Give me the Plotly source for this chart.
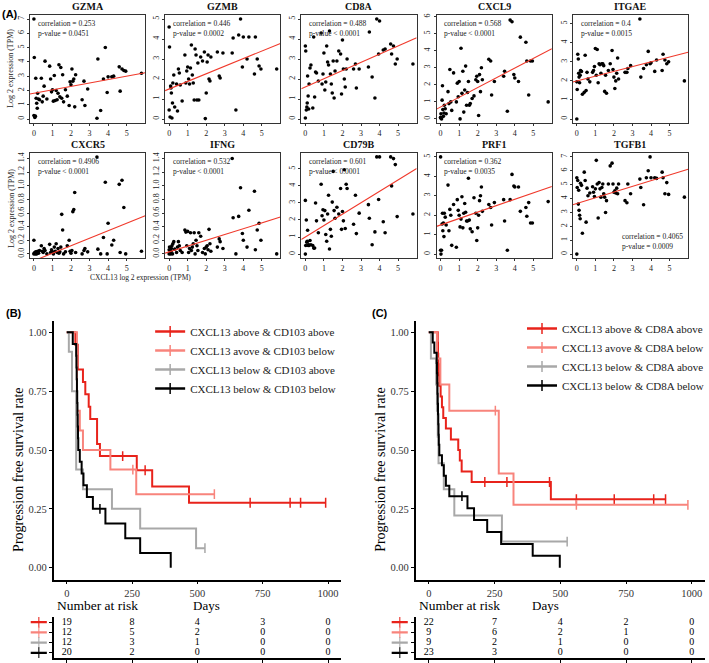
import plotly.graph_objects as go

W, H = 709, 663
def fx(p): return p / W
def fy(p): return 1 - p / H

SERIF = "Liberation Serif"

# ---------------- Panel A data ----------------
cxcl13 = [0.0, 0.0, 0.02, 0.05, 0.08, 0.1, 0.12, 0.15, 0.18, 0.2, 0.25, 0.3, 0.4, 0.45, 0.5, 0.55,
          0.6, 0.7, 0.85, 0.9, 0.95, 1.0, 1.05, 1.1, 1.15, 1.2, 1.25, 1.3, 1.35, 1.4, 1.45, 1.5,
          1.55, 1.6, 1.7, 1.8, 1.9, 1.95, 2.0, 2.05, 2.1, 2.15, 2.2, 2.25, 2.6, 2.7, 2.75, 2.9,
          3.4, 3.45, 3.6, 3.75, 3.85, 3.95, 4.0, 4.2, 4.3, 4.6, 4.65, 4.75, 4.85, 4.95, 5.8]

gzma = [7.0, 0.25, 4.3, 0.1, 0.2, 2.85, 1.45, 1.1, 0.75, 1.8, 1.4, 1.35, 2.85, 1.2, 1.6, 2.3,
        4.05, 1.4, 3.7, 2.8, 1.9, 2.05, 1.25, 3.05, 1.3, 2.0, 1.35, 1.8, 3.8, 1.55, 3.6, 1.45,
        3.1, 1.2, 2.05, 1.6, 0.95, 2.6, 2.4, 3.5, 2.65, 2.8, 0.85, 3.1, 1.35, 2.65, 0.95, 2.1,
        0.05, 4.2, 0.6, 2.8, 5.0, 1.85, 2.95, 2.95, 3.0, 3.65, 1.95, 3.5, 3.4, 3.35, 3.2]
gzmb = [4.6, 0.45, 3.6, 0.1, 1.65, 1.55, 1.3, 0.05, 0.8, 1.8, 2.2, 0.6, 1.75, 0.4, 2.5, 2.3,
        1.7, 0.9, 3.2, 1.8, 2.4, 2.6, 2.0, 1.75, 2.55, 3.7, 2.2, 1.8, 0.95, 3.5, 3.2, 0.95,
        2.8, 0.95, 3.1, 2.9, 3.35, 0.02, 1.3, 2.85, 3.2, 2.0, 1.9, 3.1, 3.35, 2.15, 2.05, 3.3,
        3.3, 4.05, 0.45, 4.2, 5.0, 2.6, 4.1, 3.0, 4.1, 2.25, 4.1, 3.0, 2.65, 2.5, 2.5]
cd8a = [0.05, 3.65, 3.4, 0.45, 0.6, 0.8, 2.15, 1.15, 0.5, 1.75, 2.55, 2.7, 0.55, 4.1, 1.1, 2.35,
        2.3, 1.9, 4.3, 1.75, 2.25, 3.3, 1.45, 1.85, 3.65, 2.85, 2.7, 4.4, 2.25, 1.75, 1.3, 2.9,
        1.05, 2.4, 2.9, 3.4, 3.25, 1.25, 3.95, 2.5, 2.0, 1.6, 2.5, 3.0, 2.5, 2.75, 1.55, 2.5,
        2.6, 4.35, 2.1, 1.05, 5.0, 3.25, 4.9, 3.45, 3.5, 3.75, 3.25, 3.65, 2.75, 3.0, 2.75]
cxcl9 = [0.1, 0.05, 0.3, 0.0, 1.1, 1.95, 0.55, 0.15, 0.35, 0.8, 0.6, 0.3, 1.6, 0.9, 2.9, 1.0,
         0.5, 2.7, 1.0, 2.1, 1.3, 2.2, 0.0, 4.15, 1.5, 2.8, 0.4, 1.7, 3.1, 0.8, 1.55, 2.2,
         0.8, 0.9, 1.2, 1.35, 2.3, 2.5, 2.2, 0.2, 2.6, 1.6, 3.0, 2.3, 3.5, 3.4, 1.4, 2.2,
         2.5, 2.8, 0.45, 5.8, 5.7, 2.6, 2.4, 2.2, 4.8, 4.5, 3.4, 1.4, 3.4, 3.4, 1.0]
itgae = [0.0, 1.95, 1.55, 3.4, 3.15, 2.4, 2.2, 1.9, 2.3, 2.55, 2.5, 1.3, 1.4, 3.35, 1.5, 2.45,
         2.1, 1.95, 2.45, 2.55, 2.75, 3.7, 2.3, 3.65, 1.9, 2.9, 2.85, 2.4, 2.9, 2.9, 2.8, 1.45,
         2.3, 1.35, 2.55, 2.9, 3.6, 2.6, 2.2, 1.6, 2.0, 2.4, 3.2, 2.1, 2.45, 2.45, 2.65, 2.8,
         5.25, 2.2, 2.65, 2.85, 3.55, 2.9, 2.95, 2.5, 3.1, 2.55, 3.4, 3.1, 2.9, 3.0, 2.0]
cxcr5 = [0.0, 0.2, 0.01, 0.02, 0.0, 0.03, 0.01, 0.0, 0.02, 0.04, 0.01, 0.05, 0.12, 0.04, 0.02, 0.08,
         0.05, 0.0, 0.14, 0.02, 0.06, 0.03, 0.0, 0.1, 0.04, 0.15, 0.02, 0.08, 0.01, 0.03, 0.1, 0.58,
         0.35, 0.0, 0.03, 0.12, 0.2, 0.04, 0.01, 0.05, 0.62, 0.65, 0.9, 0.02, 0.0, 0.05, 0.08, 0.03,
         1.42, 0.07, 0.0, 0.24, 1.05, 0.0, 0.45, 0.13, 0.2, 1.02, 0.02, 1.08, 0.68, 0.0, 0.04]
ifng = [0.06, 0.0, 0.1, 0.02, 0.0, 0.04, 0.08, 0.12, 0.0, 0.15, 0.18, 0.07, 0.02, 0.1, 0.18, 0.12,
        0.05, 0.02, 0.35, 0.32, 0.12, 0.33, 0.02, 0.08, 0.31, 0.05, 0.1, 0.15, 0.31, 0.0, 0.2, 0.12,
        0.05, 0.31, 0.26, 0.02, 0.08, 0.0, 0.1, 0.12, 0.06, 0.36, 0.15, 0.04, 0.1, 0.22, 0.18, 0.08,
        1.4, 0.53, 0.0, 0.55, 0.97, 0.3, 0.2, 0.1, 0.64, 0.92, 0.06, 0.35, 0.45, 0.2, 0.0]
cd79b = [0.0, 3.15, 0.5, 2.0, 0.7, 0.75, 1.4, 0.5, 0.55, 0.5, 0.8, 0.55, 0.5, 0.35, 0.35, 3.0,
         1.95, 1.25, 4.1, 2.25, 2.6, 2.0, 2.55, 1.15, 0.75, 2.35, 3.45, 0.3, 1.45, 1.05, 3.05, 4.85,
         2.55, 2.1, 2.75, 2.35, 3.85, 1.45, 2.5, 1.95, 4.95, 1.5, 4.1, 3.85, 1.75, 3.45, 1.2, 2.4,
         2.9, 2.1, 0.55, 1.3, 5.7, 3.2, 5.7, 1.9, 1.25, 5.7, 4.0, 5.6, 5.25, 2.2, 2.35]
prf1 = [5.0, 0.2, 0.0, 0.2, 1.55, 2.1, 1.2, 1.6, 0.9, 2.1, 1.9, 1.5, 3.55, 1.2, 2.3, 2.0,
        0.45, 2.55, 0.35, 2.8, 2.25, 2.0, 1.4, 1.8, 2.95, 1.35, 2.1, 2.6, 2.15, 1.7, 1.7, 3.9,
        1.75, 1.3, 1.15, 2.9, 2.1, 0.7, 1.35, 2.0, 2.75, 3.0, 3.45, 2.2, 2.55, 2.4, 1.5, 2.65,
        2.8, 1.7, 0.2, 2.8, 4.1, 3.5, 3.45, 3.45, 2.2, 2.4, 1.95, 2.65, 1.6, 1.6, 2.7]
tgfb1 = [0.0, 5.5, 4.8, 5.3, 3.6, 4.6, 3.15, 2.8, 2.55, 5.1, 4.95, 1.5, 5.9, 5.3, 2.3, 4.75,
         4.2, 4.4, 4.85, 4.45, 4.15, 4.7, 6.75, 5.05, 2.6, 5.15, 4.7, 4.1, 4.8, 5.05, 4.35, 4.1,
         3.0, 3.85, 5.05, 6.35, 6.55, 5.05, 4.45, 4.55, 4.4, 4.75, 4.35, 5.05, 3.85, 3.7, 5.05, 4.35,
         5.4, 4.8, 3.55, 5.5, 6.0, 7.0, 5.5, 5.5, 5.45, 5.9, 5.5, 4.35, 5.15, 4.3, 4.1]

genes = ["GZMA", "GZMB", "CD8A", "CXCL9", "ITGAE", "CXCR5", "IFNG", "CD79B", "PRF1", "TGFB1"]
gene_values = [gzma, gzmb, cd8a, cxcl9, itgae, cxcr5, ifng, cd79b, prf1, tgfb1]
correlations = ["0.253", "0.446", "0.488", "0.568", "0.4", "0.4906", "0.532", "0.601", "0.362", "0.4065"]
pvalues = ["= 0.0451", "= 0.0002", "< 0.0001", "< 0.0001", "= 0.0015",
           "< 0.0001", "< 0.0001", "< 0.0001", "= 0.0035", "= 0.0009"]
fit_intercepts = [1.8, 1.5, 1.6, 0.7, 2.0, -0.1, 0.03, 1.0, 1.5, 3.65]
fit_slopes = [0.24, 0.38, 0.41, 0.57, 0.25, 0.11, 0.085, 0.67, 0.33, 0.41]
y_tick_max = [7, 5, 5, 6, 5, 1.4, 1.4, 5, 5, 7]
y_tick_step = [1, 1, 1, 1, 1, 0.2, 0.2, 1, 1, 1]
y_ranges = [[-0.28, 7.28], [-0.2, 5.2], [-0.2, 5.2], [-0.24, 6.1], [-0.21, 5.46],
            [-0.06, 1.48], [-0.06, 1.48], [-0.23, 5.93], [-0.2, 5.2], [-0.28, 7.28]]
x_range_a = [-0.22, 6.0]

# ---------------- Panel B / C data (Kaplan-Meier) ----------------
km_labels_b = ["CXCL13 above & CD103 above", "CXCL13 avove & CD103 below",
               "CXCL13 below & CD103 above", "CXCL13 below & CD103 below"]
km_labels_c = ["CXCL13 above & CD8A above", "CXCL13 avove & CD8A below",
               "CXCL13 below & CD8A above", "CXCL13 below & CD8A below"]
km_colors = ["#E8231B", "#F8847C", "#A8A8A8", "#000000"]

b_red_t = [0, 33, 42, 62, 71, 84, 90, 116, 127, 268, 327, 468, 991]
b_red_s = [1.0, 0.947, 0.842, 0.789, 0.737, 0.684, 0.632, 0.526, 0.474, 0.414, 0.345, 0.276, 0.276]
b_red_c = [214, 300, 702, 855, 895, 991]
b_salmon_t = [0, 39, 50, 62, 167, 266, 565]
b_salmon_s = [1.0, 0.667, 0.583, 0.5, 0.417, 0.3125, 0.3125]
b_salmon_c = [253, 565]
b_gray_t = [0, 8, 20, 36, 62, 173, 281, 495, 529]
b_gray_s = [1.0, 0.917, 0.75, 0.417, 0.333, 0.25, 0.167, 0.083, 0.083]
b_gray_c = [529]
b_black_t = [0, 23, 36, 37, 38, 39, 40, 41, 42, 43, 44, 50, 57, 64, 77, 100, 148, 224, 281, 398]
b_black_s = [1.0, 0.95, 0.9, 0.85, 0.8, 0.75, 0.7, 0.65, 0.6, 0.55, 0.5, 0.45, 0.4, 0.35, 0.3,
             0.25, 0.1875, 0.125, 0.0625, 0.0]
b_black_c = [127]

c_red_t = [0, 34, 35, 36, 38, 40, 45, 50, 55, 65, 84, 112, 118, 125, 163, 464, 902]
c_red_s = [1.0, 0.955, 0.909, 0.864, 0.818, 0.773, 0.727, 0.682, 0.636, 0.591, 0.545, 0.5,
           0.455, 0.409, 0.364, 0.291, 0.291]
c_red_c = [213, 297, 459, 561, 705, 855, 900]
c_salmon_t = [0, 31, 44, 78, 266, 322, 985]
c_salmon_s = [1.0, 0.889, 0.778, 0.667, 0.4, 0.267, 0.267]
c_salmon_c = [253, 561, 985]
c_gray_t = [0, 8, 28, 31, 34, 37, 57, 97, 278, 526]
c_gray_s = [1.0, 0.889, 0.778, 0.667, 0.556, 0.444, 0.333, 0.222, 0.111, 0.111]
c_gray_c = [526]
c_black_t = [0, 15, 21, 30, 31, 32, 33, 34, 35, 36, 37, 38, 40, 50, 57, 65, 78, 147, 172, 222,
             275, 395, 498]
c_black_s = [1.0, 0.957, 0.913, 0.870, 0.826, 0.783, 0.739, 0.696, 0.652, 0.609, 0.565, 0.522,
             0.478, 0.435, 0.391, 0.348, 0.304, 0.253, 0.203, 0.152, 0.101, 0.051, 0.0]
c_black_c = [126]

risk_times = [0, 250, 500, 750, 1000]
risk_b = [[19, 8, 4, 3, 0], [12, 5, 2, 0, 0], [12, 3, 1, 0, 0], [20, 2, 0, 0, 0]]
risk_c = [[22, 7, 4, 2, 0], [9, 6, 2, 1, 0], [9, 2, 1, 0, 0], [23, 3, 0, 0, 0]]

fig = go.Figure()
layout = {}

def ax(k):
    return ("xaxis" if k == 1 else f"xaxis{k}"), ("yaxis" if k == 1 else f"yaxis{k}")

def ref(k):
    return ("x" if k == 1 else f"x{k}"), ("y" if k == 1 else f"y{k}")

annotations = []

# ---------------- Panel A ----------------
lefts = [30, 166, 303, 439, 576]
box_w = 116
rows = [(15, 123), (153, 258)]
for i, gene in enumerate(genes):
    k = i + 1
    r, c = divmod(i, 5)
    xa, ya = ax(k)
    xr, yr = ref(k)
    left = lefts[c]
    top, bot = rows[r]
    ys = gene_values[i]
    fig.add_trace(go.Scatter(x=cxcl13, y=ys, mode="markers", xaxis=xr, yaxis=yr,
                             marker=dict(color="black", size=3.6), showlegend=False,
                             hoverinfo="skip"))
    lx = x_range_a
    fig.add_trace(go.Scatter(x=lx, y=[fit_intercepts[i] + fit_slopes[i] * v for v in lx],
                             mode="lines", xaxis=xr, yaxis=yr,
                             line=dict(color="#F0392B", width=1.1), showlegend=False,
                             hoverinfo="skip"))
    n_ticks = int(round(y_tick_max[i] / y_tick_step[i])) + 1
    tv = [round(j * y_tick_step[i], 2) for j in range(n_ticks)]
    axis_common = dict(showline=True, mirror=True, linecolor="#333", linewidth=1,
                       ticks="outside", ticklen=2, tickcolor="#333", showgrid=False,
                       zeroline=False, automargin=False,
                       tickfont=dict(family=SERIF, size=8, color="#222"))
    layout[xa] = dict(domain=[fx(left), fx(left + box_w)], range=x_range_a, anchor=yr,
                      tickvals=[0, 1, 2, 3, 4, 5], **axis_common)
    layout[ya] = dict(domain=[fy(bot), fy(top)], range=y_ranges[i], anchor=xr,
                      tickvals=tv, tickangle=-90,
                      tickformat=".1f" if y_tick_step[i] < 1 else "d", **axis_common)
    annotations.append(dict(text=f"<b>{gene}</b>", xref=f"{xr} domain", yref=f"{yr} domain",
                            x=0.5, y=1, yanchor="bottom", yshift=1, showarrow=False,
                            font=dict(family=SERIF, size=10, color="#111")))
    txt = f"correlation = {correlations[i]}<br>p-value {pvalues[i]}"
    if gene == "TGFB1":
        annotations.append(dict(text=txt, xref=f"{xr} domain", yref=f"{yr} domain",
                                x=0.97, y=0.05, xanchor="right", yanchor="bottom",
                                align="left", showarrow=False,
                                font=dict(family=SERIF, size=7.5, color="#222")))
    else:
        annotations.append(dict(text=txt, xref=f"{xr} domain", yref=f"{yr} domain",
                                x=0.05, y=0.98, xanchor="left", yanchor="top",
                                align="left", showarrow=False,
                                font=dict(family=SERIF, size=7.5, color="#222")))

for yc in [68, 208]:
    annotations.append(dict(text="Log 2 expression (TPM)", xref="paper", yref="paper",
                            x=fx(11), y=fy(yc), xanchor="center", yanchor="middle",
                            textangle=-90, showarrow=False,
                            font=dict(family=SERIF, size=8, color="#222")))
annotations.append(dict(text="CXCL13 log 2 expression (TPM)", xref="paper", yref="paper",
                        x=fx(88), y=fy(277), yanchor="middle", showarrow=False,
                        font=dict(family=SERIF, size=7.5, color="#222")))

# ---------------- KM panels ----------------
def surv_at(ts, ss, t):
    v = ss[0]
    for tt, s in zip(ts, ss):
        if tt <= t:
            v = s
    return v

panels = [
    dict(k_plot=11, k_table=12, k_glyph=15, left=54, right=343, glyph=(30, 48),
         curves=[(b_red_t, b_red_s, b_red_c), (b_salmon_t, b_salmon_s, b_salmon_c),
                 (b_gray_t, b_gray_s, b_gray_c), (b_black_t, b_black_s, b_black_c)],
         labels=km_labels_b, risk=risk_b, legend="legend", ytitle_x=18, letter="(B)",
         letter_x=4, days_x=192, nar_x=55),
    dict(k_plot=13, k_table=14, k_glyph=16, left=418, right=709, glyph=(393, 411),
         curves=[(c_red_t, c_red_s, c_red_c), (c_salmon_t, c_salmon_s, c_salmon_c),
                 (c_gray_t, c_gray_s, c_gray_c), (c_black_t, c_black_s, c_black_c)],
         labels=km_labels_c, risk=risk_c, legend="legend2", ytitle_x=382, letter="(C)",
         letter_x=372, days_x=564, nar_x=419),
]

km_axis = dict(showline=True, linecolor="black", linewidth=1.5, ticks="outside", ticklen=3,
               tickcolor="black", showgrid=False, zeroline=False, automargin=False,
               tickfont=dict(family=SERIF, size=10.5, color="#333"))

for p in panels:
    xa, ya = ax(p["k_plot"])
    xr, yr = ref(p["k_plot"])
    txa, tya = ax(p["k_table"])
    txr, tyr = ref(p["k_table"])
    gxa, _ = ax(p["k_glyph"])
    gxr, _ = ref(p["k_glyph"])
    for (ts, ss, cs), col, lab in zip(p["curves"], km_colors, p["labels"]):
        fig.add_trace(go.Scatter(x=ts, y=ss, mode="lines", line=dict(color=col, width=2, shape="hv"),
                                 xaxis=xr, yaxis=yr, showlegend=False, hoverinfo="skip"))
        fig.add_trace(go.Scatter(x=cs, y=[surv_at(ts, ss, c) for c in cs], mode="markers",
                                 marker=dict(symbol="line-ns", size=7, color=col,
                                             line=dict(color=col, width=1.5)),
                                 xaxis=xr, yaxis=yr, showlegend=False, hoverinfo="skip"))
        fig.add_trace(go.Scatter(x=[None], y=[None], mode="lines+markers", name=lab,
                                 line=dict(color=col, width=2.5),
                                 marker=dict(symbol="line-ns", size=8, color=col,
                                             line=dict(color=col, width=1.5)),
                                 xaxis=xr, yaxis=yr, legend=p["legend"], showlegend=True))
    layout[xa] = dict(domain=[fx(p["left"]), fx(p["right"])], range=[-50, 1050], anchor=yr,
                      tickvals=risk_times, **km_axis)
    layout[ya] = dict(domain=[fy(579.5), fy(320.5)], range=[-0.05, 1.05], anchor=xr,
                      tickvals=[0, 0.25, 0.5, 0.75, 1.0], tickformat=".2f", **km_axis)
    # risk table
    nrow = len(p["risk"])
    tx, ty, tt = [], [], []
    for ri, row in enumerate(p["risk"]):
        for t, v in zip(risk_times, row):
            tx.append(t)
            ty.append(nrow - ri)
            tt.append(str(v))
    fig.add_trace(go.Scatter(x=tx, y=ty, text=tt, mode="text", xaxis=txr, yaxis=tyr,
                             textfont=dict(family=SERIF, size=10, color="black"),
                             showlegend=False, hoverinfo="skip"))
    tbl_axis = dict(showline=True, linecolor="black", linewidth=1.5, ticks="outside",
                    ticklen=3, tickcolor="black", showgrid=False, zeroline=False,
                    showticklabels=False, automargin=False)
    layout[txa] = dict(domain=[fx(p["left"]), fx(p["right"])], range=[-50, 1050], anchor=tyr,
                       tickvals=risk_times, **tbl_axis)
    layout[tya] = dict(domain=[fy(658), fy(617)], range=[0.5, 4.5], anchor=txr,
                       tickvals=[1, 2, 3, 4], **tbl_axis)
    # glyphs beside the risk table
    for ri, col in enumerate(km_colors):
        fig.add_trace(go.Scatter(x=[0.05, 0.5, 0.95], y=[nrow - ri] * 3, mode="lines+markers",
                                 line=dict(color=col, width=2.2),
                                 marker=dict(symbol="line-ns", size=[0, 8, 0], color=col,
                                             line=dict(color=col, width=1.5)),
                                 xaxis=gxr, yaxis=tyr, showlegend=False, hoverinfo="skip"))
    layout[gxa] = dict(domain=[fx(p["glyph"][0]), fx(p["glyph"][1])], range=[0, 1],
                       visible=False, anchor=tyr)
    annotations.append(dict(text="Progression free survival rate", xref="paper", yref="paper",
                            x=fx(p["ytitle_x"]), y=fy(470), xanchor="center", yanchor="middle",
                            textangle=-90, showarrow=False,
                            font=dict(family=SERIF, size=14, color="black")))
    annotations.append(dict(text="Number at risk", xref="paper", yref="paper",
                            x=fx(p["nar_x"]), y=fy(605), xanchor="left", yanchor="middle",
                            showarrow=False,
                            font=dict(family=SERIF, size=13.5, color="black")))
    annotations.append(dict(text="Days", xref="paper", yref="paper",
                            x=fx(p["days_x"]), y=fy(605), yanchor="middle", showarrow=False,
                            font=dict(family=SERIF, size=13, color="black")))
    annotations.append(dict(text=f"<b>{p['letter']}</b>", xref="paper", yref="paper",
                            x=fx(p["letter_x"]), y=fy(313), xanchor="left", showarrow=False,
                            font=dict(family="Liberation Sans", size=11, color="black")))

annotations.append(dict(text="<b>(A)</b>", xref="paper", yref="paper", x=0, y=fy(6),
                        xanchor="left", showarrow=False,
                        font=dict(family="Liberation Sans", size=11, color="black")))

legend_common = dict(font=dict(family=SERIF, size=11, color="#222"), bgcolor="rgba(0,0,0,0)",
                     itemwidth=30, tracegroupgap=0, xanchor="left", yanchor="top")
layout["legend"] = dict(x=fx(151), y=fy(317), **legend_common)
layout["legend2"] = dict(x=fx(525), y=fy(314), **legend_common)

fig.update_layout(width=W, height=H, margin=dict(l=0, r=0, t=0, b=0),
                  paper_bgcolor="white", plot_bgcolor="white",
                  annotations=annotations, **layout)
fig.write_html("out.html", config={"displayModeBar": False},
               post_script="document.body.style.margin='0';document.body.style.overflow='hidden';")
